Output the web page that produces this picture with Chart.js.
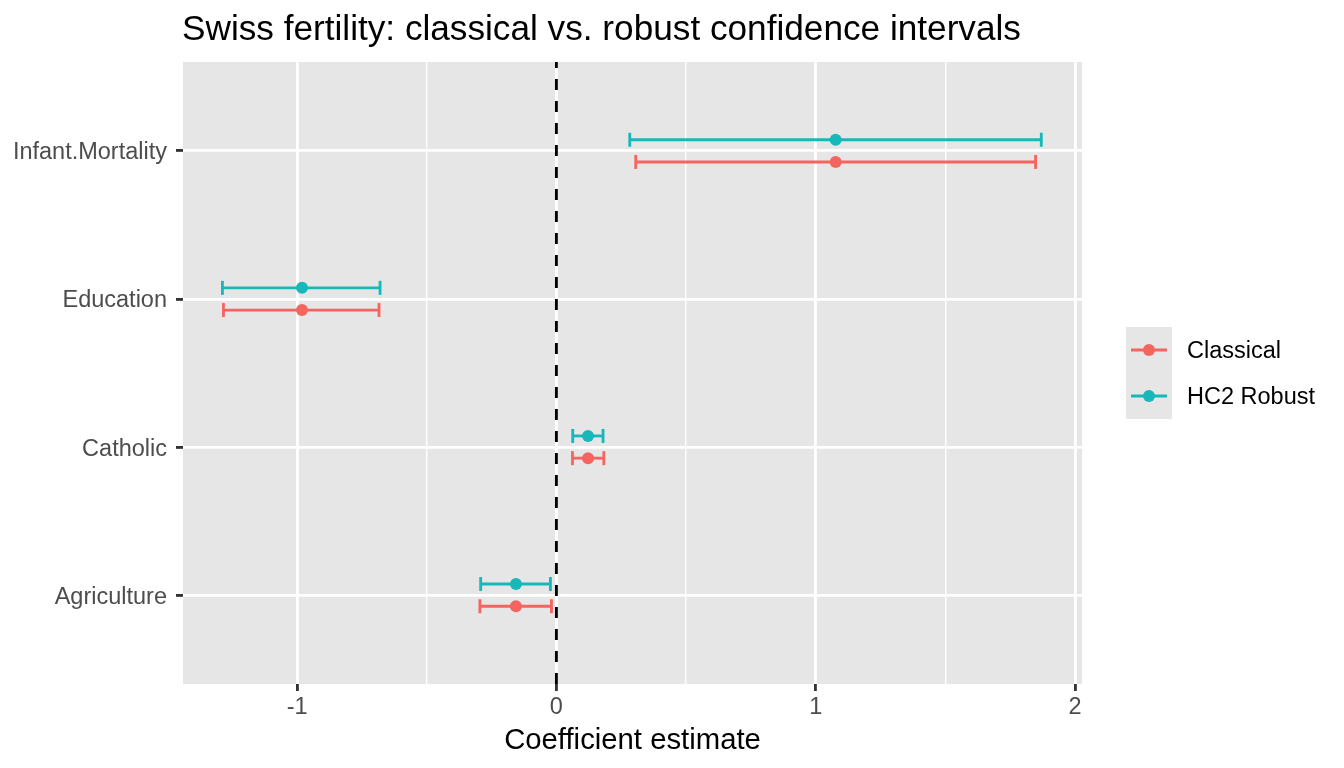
<!DOCTYPE html>
<html>
<head>
<meta charset="utf-8">
<script src="https://cdn.jsdelivr.net/npm/chart.js@4.4.0/dist/chart.umd.min.js"></script>
<style>
  html, body { margin: 0; padding: 0; background: #ffffff; }
  #wrap { width: 1344px; height: 768px; }
</style>
</head>
<body>
<div id="wrap"><canvas id="c" width="1344" height="768"></canvas></div>
<script>
// ---- data ----
const categories = ['Agriculture', 'Catholic', 'Education', 'Infant.Mortality'];
const estimates   = [-0.156, 0.122, -0.981, 1.077];
const classicalLo = [-0.295, 0.062, -1.284, 0.306];
const classicalHi = [-0.019, 0.183, -0.684, 1.848];
const robustLo    = [-0.292, 0.063, -1.288, 0.283];
const robustHi    = [-0.023, 0.180, -0.680, 1.870];
const seriesNames = ['Classical', 'HC2 Robust'];
const seriesColors = ['#F5655F', '#17B7BA'];
const xTickValues = [-1, 0, 1, 2];
const xRange = [-1.44, 2.027];
const yRange = [0.4, 4.6];
const dodge = 0.075;

const LW = 2.84;
const PANEL = '#E6E6E6';
const FONT = "'Liberation Sans', Arial, Helvetica, sans-serif";

const series = [
  { name: seriesNames[0], color: seriesColors[0], lo: classicalLo, hi: classicalHi, off: -dodge },
  { name: seriesNames[1], color: seriesColors[1], lo: robustLo, hi: robustHi, off: dodge }
];

const datasets = [];
// reference line at zero
datasets.push({
  data: [{x: 0, y: yRange[0]}, {x: 0, y: yRange[1]}],
  showLine: true, borderColor: '#000000', borderWidth: LW, borderDash: [11, 11],
  pointRadius: 0, pointHoverRadius: 0, order: 5
});
series.forEach(s => {
  categories.forEach((c, i) => {
    const y = i + 1 + s.off;
    datasets.push({
      data: [{x: s.lo[i], y: y}, {x: s.hi[i], y: y}],
      showLine: true, borderColor: s.color, borderWidth: LW,
      pointStyle: 'line', rotation: 90, pointRadius: 7, pointHoverRadius: 7,
      pointBorderColor: s.color, pointBorderWidth: LW, order: 2
    });
  });
  datasets.push({
    data: categories.map((c, i) => ({x: estimates[i], y: i + 1 + s.off})),
    showLine: false, pointStyle: 'circle', pointRadius: 6, pointHoverRadius: 6,
    pointBackgroundColor: s.color, pointBorderColor: s.color, pointBorderWidth: 0, order: 1
  });
});

const isInt = v => Math.abs(v - Math.round(v)) < 1e-9;

const bgPlugin = {
  id: 'panelBg',
  beforeDraw(chart) {
    const {ctx, chartArea: a} = chart;
    ctx.save();
    ctx.fillStyle = PANEL;
    ctx.fillRect(a.left, a.top, a.right - a.left, a.bottom - a.top);
    ctx.restore();
  },
  afterDraw(chart) {
    const {ctx, chartArea: a} = chart;
    ctx.save();
    // title
    ctx.fillStyle = '#000000';
    ctx.font = '35.2px ' + FONT;
    ctx.textAlign = 'left';
    ctx.textBaseline = 'alphabetic';
    ctx.fillText('Swiss fertility: classical vs. robust confidence intervals', a.left - 1, 40);
    // legend
    const kx = 1126, ky = 327, ks = 46;
    ctx.fillStyle = PANEL;
    ctx.fillRect(kx, ky, ks, ks * series.length);
    series.forEach((s, j) => {
      const cy = ky + ks * j + ks / 2;
      ctx.strokeStyle = s.color;
      ctx.lineWidth = LW;
      ctx.beginPath();
      ctx.moveTo(kx + 5, cy);
      ctx.lineTo(kx + ks - 5, cy);
      ctx.stroke();
      ctx.fillStyle = s.color;
      ctx.beginPath();
      ctx.arc(kx + ks / 2, cy, 6, 0, Math.PI * 2);
      ctx.fill();
      ctx.fillStyle = '#000000';
      ctx.font = '23.5px ' + FONT;
      ctx.textBaseline = 'middle';
      ctx.fillText(s.name, 1187, cy + 2);
    });
    ctx.restore();
  }
};

new Chart(document.getElementById('c'), {
  type: 'scatter',
  data: { datasets },
  plugins: [bgPlugin],
  options: {
    responsive: false,
    animation: false,
    devicePixelRatio: 1,
    layout: { padding: { top: 62, right: 262, bottom: 0, left: 0 } },
    plugins: { legend: { display: false }, tooltip: { enabled: false }, title: { display: false } },
    scales: {
      x: {
        type: 'linear', min: xRange[0], max: xRange[1],
        afterFit(scale) { scale.height = 84; },
        ticks: {
          stepSize: 0.5, includeBounds: false, autoSkip: false, maxRotation: 0,
          color: '#4D4D4D', font: { family: FONT, size: 23.5 }, padding: 2,
          callback: v => (isInt(v) && xTickValues.includes(Math.round(v))) ? String(Math.round(v)) : ''
        },
        grid: {
          color: '#FFFFFF',
          lineWidth: c => (c.tick && isInt(c.tick.value)) ? LW : LW / 2,
          tickColor: c => (c.tick && isInt(c.tick.value)) ? '#333333' : 'rgba(0,0,0,0)',
          tickWidth: LW, tickLength: 7, drawTicks: true
        },
        border: { display: false },
        title: { display: true, text: 'Coefficient estimate', color: '#000000',
                 font: { family: FONT, size: 29.3 }, padding: { top: 0, bottom: 10 } }
      },
      y: {
        type: 'linear', min: yRange[0], max: yRange[1],
        afterFit(scale) { scale.width = 183; },
        ticks: {
          stepSize: 1, includeBounds: false, autoSkip: false,
          color: '#4D4D4D', font: { family: FONT, size: 23.5 }, padding: 9, labelOffset: 2,
          callback: v => isInt(v) ? (categories[Math.round(v) - 1] || '') : ''
        },
        grid: { color: '#FFFFFF', lineWidth: LW, tickColor: '#333333', tickWidth: LW, tickLength: 7 },
        border: { display: false }
      }
    }
  }
});
</script>
</body>
</html>
